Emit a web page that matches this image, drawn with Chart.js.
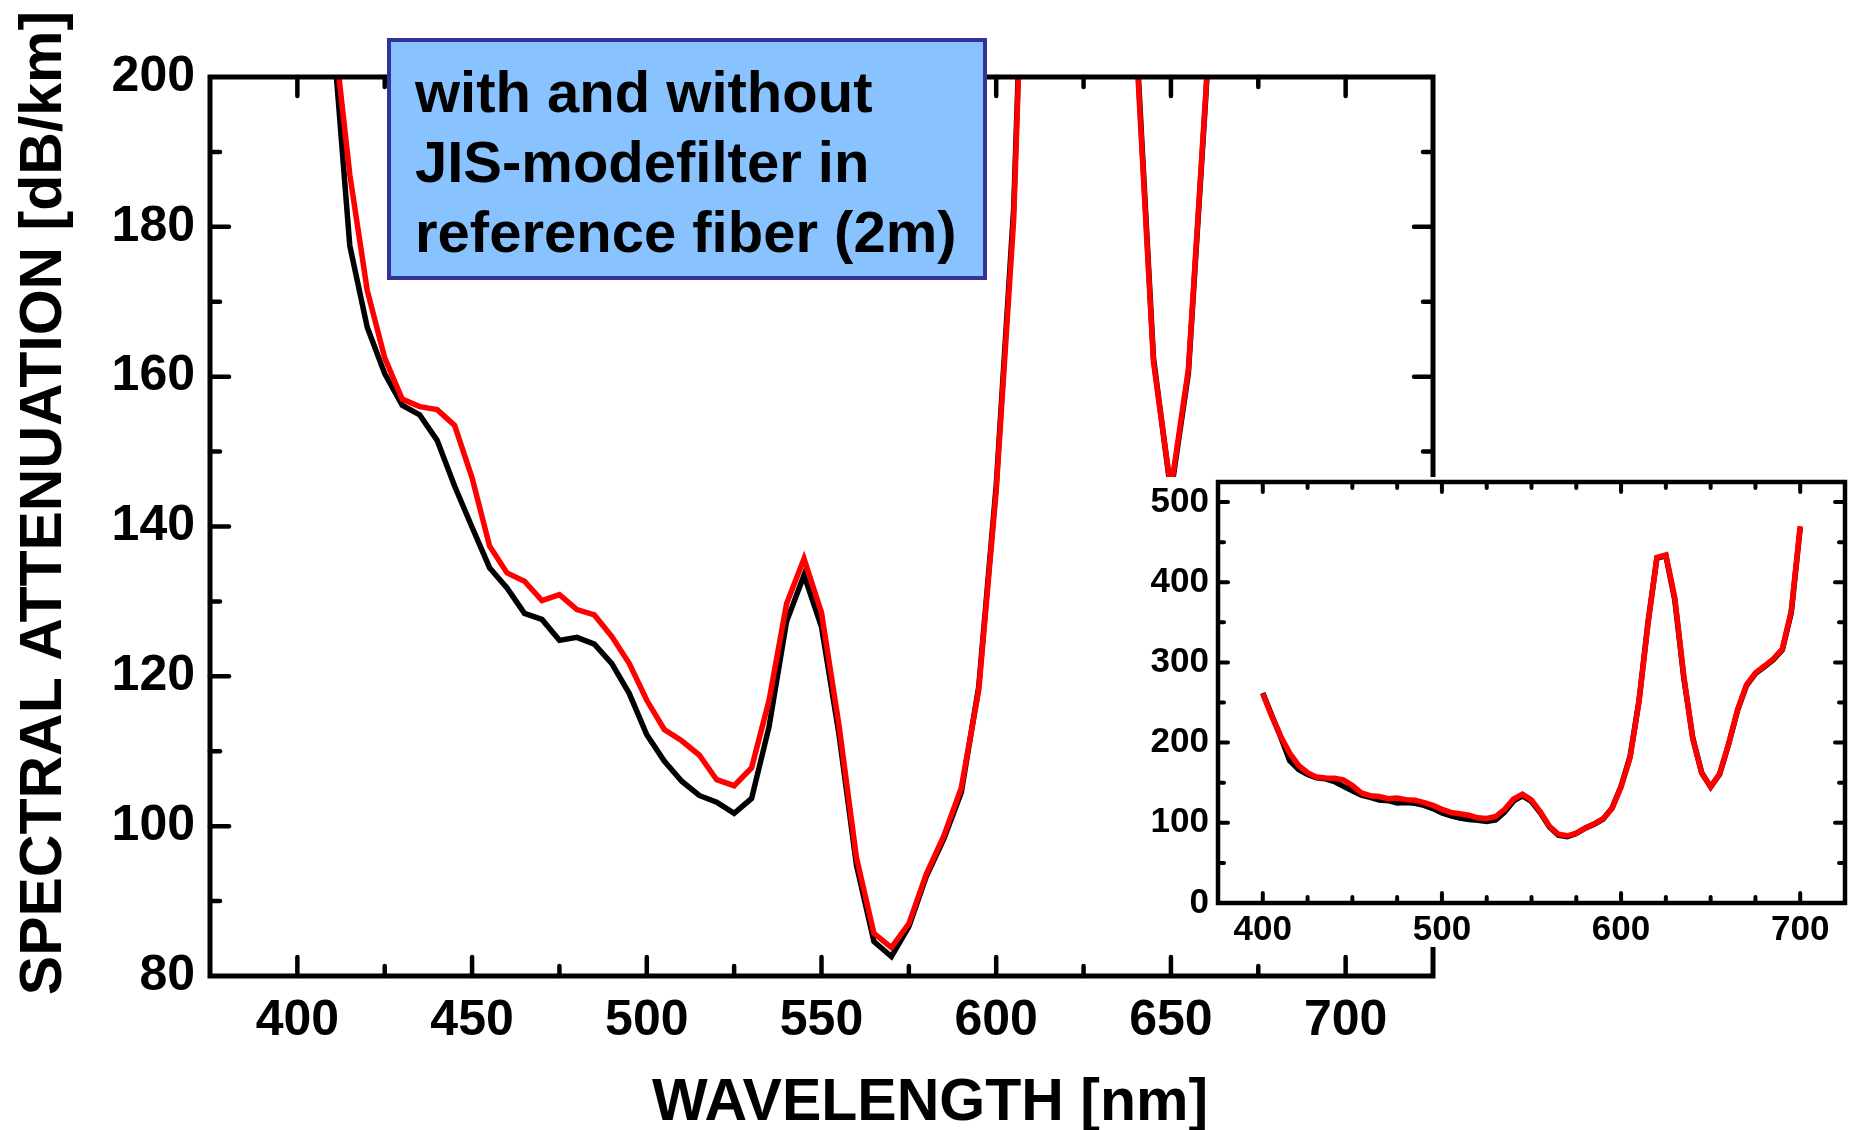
<!DOCTYPE html>
<html>
<head>
<meta charset="utf-8">
<script src="https://cdn.jsdelivr.net/npm/chart.js@4/dist/chart.umd.min.js"></script>
<style>
  body { margin: 0; background: #fff; overflow: hidden; }
  #wrap { position: relative; width: 1849px; height: 1130px; }
  #main { position: absolute; left: 0; top: 0; }
  #inset { position: absolute; left: 1140px; top: 477px; background: #fff; }
</style>
</head>
<body>
<div id="wrap">
  <canvas id="main" width="1849" height="1130"></canvas>
  <canvas id="inset" width="709" height="470"></canvas>
</div>
<script>
// wavelengths in nm
const wavelength = [400, 405, 410, 415, 420, 425, 430, 435, 440, 445, 450, 455, 460, 465, 470, 475, 480, 485, 490, 495,
  500, 505, 510, 515, 520, 525, 530, 535, 540, 545, 550, 555, 560, 565, 570, 575, 580, 585, 590, 595,
  600, 605, 610, 615, 620, 625, 630, 635, 640, 645, 650, 655, 660, 665, 670, 675, 680, 685, 690, 695, 700];

// red curve (dB/km)
const attRed = [261, 233, 208, 187, 171.5, 162.5, 157, 156, 155.6, 153.5, 146.5, 137.4, 133.8, 132.7, 130.1, 130.9, 128.9, 128.2, 125.3, 121.7,
  116.8, 112.9, 111.4, 109.5, 106.2, 105.4, 107.8, 116.8, 129.7, 135.7, 128.5, 113.5, 95.8, 85.7, 83.8, 87, 93.6, 98.7, 105.1, 118.2,
  144.8, 181, 251, 348, 431, 434, 380, 283, 205, 162, 145, 161, 198, 241, 272, 287, 295.5, 304.5, 316.5, 364, 470];

// black curve (dB/km)
const attBlack = [262, 234, 207, 177.5, 166.6, 160.4, 156.2, 154.9, 151.5, 145.4, 139.9, 134.5, 131.8, 128.4, 127.6, 124.8, 125.2, 124.3, 121.7, 117.7,
  112.2, 108.7, 106, 104.1, 103.2, 101.7, 103.7, 113.3, 127.3, 133.5, 126.6, 112.3, 94.8, 84.6, 82.6, 86.6, 93.3, 98.3, 104.5, 118.6,
  145.5, 182.5, 252, 349, 430, 433, 378, 281, 206, 162.5, 144.5, 160.5, 197.5, 240, 271, 286, 294.5, 303.5, 315.5, 362, 468];

const mainXLabels = [400, 450, 500, 550, 600, 650, 700];
const mainYLabels = [80, 100, 120, 140, 160, 180, 200];
const insetXLabels = [400, 500, 600, 700];
const insetYLabels = [0, 100, 200, 300, 400, 500];

const boxLines = ['with and without', 'JIS-modefilter in', 'reference fiber (2m)'];
const xTitle = 'WAVELENGTH [nm]';
const yTitle = 'SPECTRAL ATTENUATION [dB/km]';

const FONT = '"Liberation Sans", Arial, Helvetica, sans-serif';

function pts(ys) {
  return wavelength.map((w, i) => ({ x: w, y: ys[i] }));
}

function datasets() {
  return [
    { label: 'red', data: pts(attRed), borderColor: '#ff0000', borderWidth: 5.5, pointRadius: 0, tension: 0, fill: false },
    { label: 'black', data: pts(attBlack), borderColor: '#000000', borderWidth: 5.5, pointRadius: 0, tension: 0, fill: false }
  ];
}

function fixedScale(labels, size, fitProp) {
  return {
    afterBuildTicks: s => { s.ticks = labels.map(v => ({ value: v })); },
    afterFit: s => {
      s[fitProp] = size;
      s.paddingLeft = 0; s.paddingRight = 0; s.paddingTop = 0; s.paddingBottom = 0;
    }
  };
}

// frame + inward ticks on all four sides
const frameTicks = {
  id: 'frameTicks',
  afterDraw(chart, args, o) {
    const { ctx, chartArea: a } = chart;
    const x = chart.scales.x, y = chart.scales.y;
    ctx.save();
    ctx.strokeStyle = '#000';
    ctx.lineWidth = o.tw;
    ctx.lineCap = 'round';
    const seg = (x1, y1, x2, y2) => { ctx.beginPath(); ctx.moveTo(x1, y1); ctx.lineTo(x2, y2); ctx.stroke(); };
    for (let v = o.xFrom; v <= o.xTo; v += o.xStep) {
      const px = x.getPixelForValue(v);
      const len = v % o.xMajor === 0 ? o.major : o.minor;
      seg(px, a.bottom, px, a.bottom - len);
      seg(px, a.top, px, a.top + len);
    }
    for (let v = o.yFrom; v <= o.yTo; v += o.yStep) {
      const py = y.getPixelForValue(v);
      const len = v % o.yMajor === 0 ? o.major : o.minor;
      seg(a.left, py, a.left + len, py);
      seg(a.right, py, a.right - len, py);
    }
    ctx.lineWidth = o.lw;
    ctx.lineCap = 'square';
    ctx.strokeRect(a.left, a.top, a.right - a.left, a.bottom - a.top);
    ctx.restore();
  }
};

// text box and axis titles of the main plot
const annotations = {
  id: 'annotations',
  afterDraw(chart) {
    const ctx = chart.ctx;
    ctx.save();
    ctx.fillStyle = '#88c3ff';
    ctx.strokeStyle = '#333399';
    ctx.lineWidth = 4;
    ctx.fillRect(389, 40, 596, 238);
    ctx.strokeRect(389, 40, 596, 238);
    ctx.fillStyle = '#000';
    ctx.font = 'bold 58px ' + FONT;
    ctx.textAlign = 'left';
    ctx.textBaseline = 'alphabetic';
    boxLines.forEach((t, i) => ctx.fillText(t, 415, 112 + i * 70));

    ctx.font = 'bold 59px ' + FONT;
    ctx.textAlign = 'center';
    ctx.fillText(xTitle, 930, 1120);

    ctx.translate(61, 503);
    ctx.rotate(-Math.PI / 2);
    ctx.fillText(yTitle, 0, 0);
    ctx.restore();
  }
};

const common = {
  responsive: false,
  animation: false,
  devicePixelRatio: 1,
  plugins: { legend: { display: false }, tooltip: { enabled: false } }
};

new Chart(document.getElementById('main'), {
  type: 'line',
  data: { datasets: datasets() },
  plugins: [frameTicks, annotations],
  options: {
    ...common,
    layout: { padding: { left: 0, right: 416, top: 77, bottom: 0 } },
    plugins: {
      ...common.plugins,
      frameTicks: { lw: 5, tw: 4.5, major: 19, minor: 10, xFrom: 400, xTo: 700, xStep: 25, xMajor: 50, yFrom: 90, yTo: 190, yStep: 10, yMajor: 20 }
    },
    scales: {
      x: {
        type: 'linear', min: 375, max: 725,
        grid: { display: false, drawTicks: false },
        border: { display: false },
        ticks: { color: '#000', padding: 15, maxRotation: 0, font: { family: FONT, size: 50, weight: 'bold' } },
        ...fixedScale(mainXLabels, 154, 'height')
      },
      y: {
        type: 'linear', min: 80, max: 200,
        grid: { display: false, drawTicks: false },
        border: { display: false },
        ticks: { color: '#000', padding: 15, font: { family: FONT, size: 50, weight: 'bold' } },
        ...fixedScale(mainYLabels, 210, 'width')
      }
    }
  }
});

new Chart(document.getElementById('inset'), {
  type: 'line',
  data: { datasets: datasets() },
  plugins: [frameTicks],
  options: {
    ...common,
    layout: { padding: { left: 0, right: 4, top: 5, bottom: 0 } },
    plugins: {
      ...common.plugins,
      frameTicks: { lw: 4.5, tw: 4, major: 10, minor: 6, xFrom: 400, xTo: 700, xStep: 25, xMajor: 100, yFrom: 50, yTo: 500, yStep: 50, yMajor: 100 }
    },
    scales: {
      x: {
        type: 'linear', min: 375, max: 725,
        grid: { display: false, drawTicks: false },
        border: { display: false },
        ticks: { color: '#000', padding: 6, maxRotation: 0, font: { family: FONT, size: 35, weight: 'bold' } },
        ...fixedScale(insetXLabels, 44, 'height')
      },
      y: {
        type: 'linear', min: 0, max: 525,
        grid: { display: false, drawTicks: false },
        border: { display: false },
        ticks: { color: '#000', padding: 9, font: { family: FONT, size: 35, weight: 'bold' } },
        ...fixedScale(insetYLabels, 78, 'width')
      }
    }
  }
});
</script>
</body>
</html>
